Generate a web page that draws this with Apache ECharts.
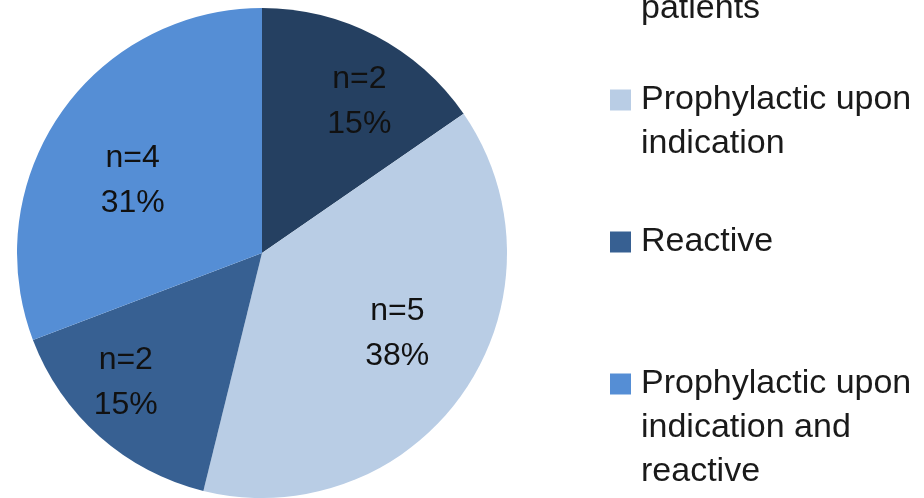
<!DOCTYPE html>
<html>
<head>
<meta charset="utf-8">
<script src="https://cdn.jsdelivr.net/npm/echarts@6/dist/echarts.min.js"></script>
<style>
html, body { margin: 0; padding: 0; background: #fff; }
#main { width: 924px; height: 498px; }
</style>
</head>
<body>
<div id="main"></div>
<script>
// strategy groups (legend text wrapped like the source)
const categories = [
    'Prophylactic in all\npatients',
    'Prophylactic upon\nindication',
    'Reactive',
    'Prophylactic upon\nindication and\nreactive'
]
const counts = [2, 5, 2, 4]
const colors = ['#254061', '#b9cde5', '#376092', '#558ed5']

// layout tweaks
const labelShift = [[39, -40], [32, 9], [-53, 36], [-26, -1]]
const legendRowY = [-35, 100, 242, 384]
const LH = 44

const total = counts.reduce((a, b) => a + b, 0)

const chart = echarts.init(document.getElementById('main'))

// icon sits on the first text line: pad the block with blank lines on top
const legends = categories.map((name, i) => {
    const lines = name.split('\n').length
    return {
        data: [name],
        orient: 'vertical',
        left: 610,
        top: legendRowY[i] - (2 * lines - 1) * LH / 2,
        padding: 0,
        icon: 'rect',
        itemWidth: 21,
        itemHeight: 21,
        selectedMode: false,
        formatter: function (n) {
            return '\n'.repeat(lines - 1) + n
        },
        textStyle: {
            fontFamily: 'Liberation Sans',
            fontSize: 34,
            lineHeight: LH,
            color: '#1a1a1a',
            padding: [0, 0, 0, 5]
        }
    }
})

const option = {
    animation: false,
    color: colors,
    legend: legends,
    series: [
        {
            type: 'pie',
            center: [262, 253],
            radius: 245,
            startAngle: 90,
            clockwise: true,
            silent: true,
            itemStyle: { borderWidth: 0 },
            label: {
                show: true,
                position: 'inside',
                fontFamily: 'Liberation Sans',
                fontSize: 32,
                lineHeight: 45,
                color: '#111',
                formatter: function (p) {
                    return 'n=' + p.value + '\n' + Math.round(p.value / total * 100) + '%'
                }
            },
            labelLine: { show: false },
            data: categories.map((name, i) => ({
                name: name,
                value: counts[i],
                label: { offset: labelShift[i] }
            }))
        }
    ]
}

chart.setOption(option)
</script>
</body>
</html>
